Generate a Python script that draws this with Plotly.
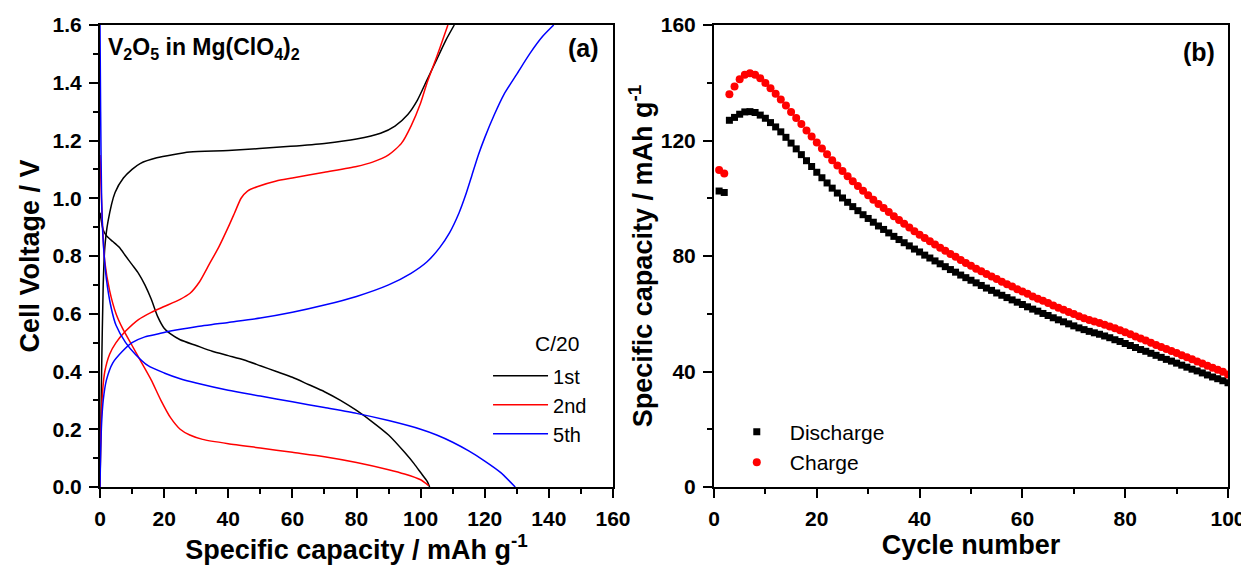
import plotly.graph_objects as go

# ---------------- Panel (a): voltage profiles ----------------
cap_1st_dis = [0, 1, 2, 4, 6, 8, 10, 12, 14, 16, 18, 20, 22, 25, 30, 35, 40, 45, 50, 55, 60, 65, 70, 75, 80, 85, 90, 95, 98, 100, 102, 102.8]
v_1st_dis = [0.95, 0.89, 0.87, 0.85, 0.83, 0.80, 0.77, 0.74, 0.70, 0.65, 0.59, 0.55, 0.53, 0.51, 0.49, 0.47, 0.455, 0.44, 0.42, 0.40, 0.38, 0.355, 0.33, 0.30, 0.265, 0.225, 0.18, 0.12, 0.08, 0.05, 0.02, 0.0]
cap_1st_chg = [0, 0.5, 1, 1.5, 2.5, 4.7, 7.3, 10, 12.5, 17.7, 28, 40, 59.4, 70, 80, 87.5, 92, 96, 99, 102, 105, 108, 110.5]
v_1st_chg = [0.0, 0.4, 0.7, 0.83, 0.92, 1.02, 1.07, 1.10, 1.12, 1.14, 1.16, 1.165, 1.18, 1.19, 1.205, 1.225, 1.25, 1.29, 1.34, 1.41, 1.48, 1.55, 1.6]

cap_2nd_dis = [0, 0.3, 0.8, 1.5, 3, 5, 7, 10, 13, 16, 19, 22, 25, 28, 32, 40, 50, 60, 70, 80, 90, 95, 100, 102.5]
v_2nd_dis = [1.15, 1.05, 0.9, 0.78, 0.68, 0.6, 0.55, 0.49, 0.43, 0.37, 0.3, 0.24, 0.2, 0.18, 0.165, 0.15, 0.135, 0.12, 0.105, 0.085, 0.06, 0.045, 0.025, 0.005]
cap_2nd_chg = [0, 0.3, 0.8, 1.5, 3, 5, 8, 12, 16, 20, 25, 28, 31, 34, 37, 40, 42, 44, 46, 49, 55, 60, 70, 80, 85, 90, 94, 97, 100, 102, 104, 106, 108.5]
v_2nd_chg = [0.0, 0.2, 0.33, 0.4, 0.46, 0.5, 0.54, 0.58, 0.605, 0.625, 0.65, 0.67, 0.71, 0.77, 0.83, 0.9, 0.95, 1.0, 1.025, 1.04, 1.06, 1.07, 1.09, 1.11, 1.125, 1.15, 1.19, 1.25, 1.33, 1.40, 1.46, 1.52, 1.6]

cap_5th_dis = [0, 0.2, 0.5, 1, 2, 3.5, 5, 8, 11, 15, 20, 25, 30, 40, 50, 60, 70, 80, 90, 100, 105, 110, 115, 120, 125, 129.5]
v_5th_dis = [1.6, 1.3, 1.0, 0.85, 0.72, 0.62, 0.56, 0.5, 0.46, 0.42, 0.395, 0.375, 0.36, 0.335, 0.315, 0.295, 0.275, 0.255, 0.23, 0.2, 0.18, 0.155, 0.125, 0.09, 0.05, 0.0]
cap_5th_chg = [0, 0.2, 0.5, 1, 2, 4, 7, 10, 14, 18, 22, 30, 40, 50, 60, 70, 80, 90, 97, 102, 106, 109, 112, 114, 116, 118, 120, 123, 126, 130, 134, 138, 141.5]
v_5th_chg = [0.0, 0.12, 0.22, 0.3, 0.37, 0.43, 0.47, 0.5, 0.52, 0.53, 0.54, 0.555, 0.57, 0.585, 0.605, 0.63, 0.66, 0.7, 0.74, 0.78, 0.83, 0.88, 0.95, 1.01, 1.08, 1.15, 1.21, 1.29, 1.36, 1.43, 1.5, 1.56, 1.6]

cycle_labels = ["1st", "2nd", "5th"]
cycle_colors = ["#000000", "#FF0000", "#0000FF"]
rate_label = "C/20"

# ---------------- Panel (b): cycling ----------------
cycles = list(range(1, 101))
discharge = [
    102.5, 102.0, 127.0, 128.0, 129.1, 129.9, 130.0, 129.7, 128.8, 127.7,
    126.2, 124.7, 123.0, 121.1, 119.1, 117.1, 115.1, 113.0, 111.0, 109.0,
    107.1, 105.3, 103.5, 101.8, 100.1, 98.6, 97.1, 95.7, 94.3, 93.0,
    91.7, 90.4, 89.2, 88.0, 86.8, 85.7, 84.6, 83.5, 82.4, 81.4,
    80.3, 79.3, 78.3, 77.3, 76.3, 75.3, 74.4, 73.4, 72.5, 71.6,
    70.7, 69.8, 68.9, 68.1, 67.2, 66.4, 65.6, 64.8, 64.0, 63.2,
    62.4, 61.6, 60.9, 60.1, 59.4, 58.6, 57.9, 57.2, 56.5, 55.8,
    55.1, 54.5, 53.9, 53.4, 52.9, 52.3, 51.7, 51.0, 50.4, 49.7,
    49.0, 48.3, 47.6, 47.0, 46.3, 45.6, 44.9, 44.2, 43.6, 42.9,
    42.2, 41.5, 40.8, 40.2, 39.5, 38.8, 38.1, 37.5, 36.8, 36.1,
]
charge = [
    109.8, 108.6, 136.0, 138.7, 141.2, 142.8, 143.3, 142.8, 141.6, 139.9,
    138.1, 136.2, 134.2, 132.1, 129.9, 127.8, 125.7, 123.5, 121.4, 119.3,
    117.2, 115.2, 113.2, 111.3, 109.4, 107.6, 105.9, 104.2, 102.6, 101.0,
    99.5, 98.0, 96.6, 95.2, 93.8, 92.5, 91.2, 89.9, 88.6, 87.4,
    86.2, 85.1, 84.0, 82.9, 81.8, 80.7, 79.7, 78.6, 77.6, 76.6,
    75.6, 74.7, 73.8, 72.9, 72.0, 71.1, 70.2, 69.4, 68.5, 67.7,
    66.9, 66.0, 65.2, 64.5, 63.7, 62.9, 62.1, 61.4, 60.6, 59.9,
    59.1, 58.4, 57.8, 57.3, 56.8, 56.2, 55.6, 55.0, 54.3, 53.6,
    52.9, 52.1, 51.4, 50.7, 50.0, 49.2, 48.5, 47.8, 47.1, 46.4,
    45.6, 44.9, 44.2, 43.5, 42.8, 42.0, 41.3, 40.6, 39.9, 39.0,
]

FONT = "Liberation Sans, Arial, sans-serif"

fig = go.Figure()

profiles = [
    (cap_1st_dis, v_1st_dis, cap_1st_chg, v_1st_chg),
    (cap_2nd_dis, v_2nd_dis, cap_2nd_chg, v_2nd_chg),
    (cap_5th_dis, v_5th_dis, cap_5th_chg, v_5th_chg),
]
for (cd, vd, cc, vc), name, col in zip(profiles, cycle_labels, cycle_colors):
    fig.add_trace(go.Scatter(x=cc, y=vc, mode="lines", name=name, legendgroup=name,
                             line=dict(color=col, width=1.5, shape="spline", smoothing=0.6),
                             xaxis="x", yaxis="y", legend="legend"))
    fig.add_trace(go.Scatter(x=cd, y=vd, mode="lines", name=name, legendgroup=name, showlegend=False,
                             line=dict(color=col, width=1.5, shape="spline", smoothing=0.6),
                             xaxis="x", yaxis="y", legend="legend"))

fig.add_trace(go.Scatter(x=cycles, y=discharge, mode="markers", name="Discharge",
                         marker=dict(symbol="square", size=7, color="#000000"),
                         xaxis="x2", yaxis="y2", legend="legend2"))
fig.add_trace(go.Scatter(x=cycles, y=charge, mode="markers", name="Charge",
                         marker=dict(symbol="circle", size=8, color="#FF0000"),
                         xaxis="x2", yaxis="y2", legend="legend2"))

axis_common = dict(showline=True, linewidth=2, linecolor="black", mirror=True,
                   ticks="outside", ticklen=9, tickwidth=2, tickcolor="black",
                   showgrid=False, zeroline=False, automargin=False, ticklabelstandoff=3,
                   tickfont=dict(family=FONT, size=21, color="black", weight="bold"),
                   title_font=dict(family=FONT, size=27, color="black", weight="bold"))
minor_common = dict(ticklen=5, tickwidth=2, ticks="outside", tickcolor="black")

# page body has an 8px default margin: the figure is sized/offset to fill the window
fig.update_layout(
    width=1241, height=557, autosize=False,
    margin=dict(l=92, r=21, t=17, b=78),
    paper_bgcolor="white", plot_bgcolor="white",
    xaxis=dict(domain=[0, 0.4548], range=[0, 160], dtick=20, anchor="y",
               minor=dict(dtick=10, **minor_common),
               title=dict(text="Specific capacity / mAh g<sup>-1</sup>", standoff=6), **axis_common),
    yaxis=dict(domain=[0, 1], range=[0, 1.6], dtick=0.2, tickformat=".1f", anchor="x",
               minor=dict(dtick=0.1, **minor_common),
               title=dict(text="Cell Voltage / V", standoff=5), **axis_common),
    xaxis2=dict(domain=[0.5443, 1], range=[0, 100], dtick=20, anchor="y2",
                minor=dict(dtick=10, **minor_common),
                title=dict(text="Cycle number", standoff=6), **axis_common),
    yaxis2=dict(domain=[0, 1], range=[0, 160], dtick=40, anchor="x2",
                minor=dict(dtick=20, **minor_common),
                title=dict(text="Specific capacity / mAh g<sup>-1</sup>", standoff=0), **axis_common),
    legend=dict(x=0.344, y=0.283, xanchor="left", yanchor="top", bgcolor="rgba(0,0,0,0)",
                font=dict(family=FONT, size=20, color="black"), tracegroupgap=0, itemwidth=55),
    legend2=dict(x=0.553, y=0.163, xanchor="left", yanchor="top", bgcolor="rgba(0,0,0,0)",
                 font=dict(family=FONT, size=21, color="black"), tracegroupgap=0, itemwidth=56),
    annotations=[
        dict(text="<b>(a)</b>", xref="x domain", yref="y domain", x=0.9415, y=0.95,
             xanchor="center", yanchor="middle", showarrow=False,
             font=dict(family=FONT, size=25, color="black")),
        dict(text="<b>(b)</b>", xref="x2 domain", yref="y2 domain", x=0.9436, y=0.9416,
             xanchor="center", yanchor="middle", showarrow=False,
             font=dict(family=FONT, size=25, color="black")),
        dict(text="<b>V<sub>2</sub>O<sub>5</sub> in Mg(ClO<sub>4</sub>)<sub>2</sub></b>",
             xref="x domain", yref="y domain", x=0.012, y=0.985,
             xanchor="left", yanchor="top", showarrow=False,
             font=dict(family=FONT, size=23, color="black")),
        dict(text=rate_label, xref="x domain", yref="y domain", x=0.891, y=0.311,
             xanchor="center", yanchor="middle", showarrow=False,
             font=dict(family=FONT, size=21, color="black")),
    ],
)

fig.write_html("out.html")
